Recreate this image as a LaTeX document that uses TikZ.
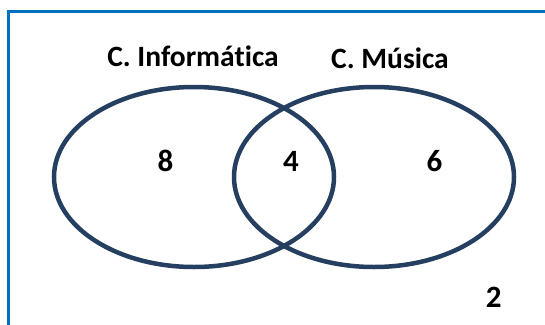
\documentclass[tikz,border=0pt]{standalone}
\usepackage{fontspec}
\setmainfont[Ligatures=NoCommon]{Carlito}
\definecolor{frameblue}{HTML}{0070C0}
\definecolor{setnavy}{HTML}{243F60}
\begin{document}
\begin{tikzpicture}[x=1pt,y=-1pt,
  setring/.style={draw=setnavy,line width=4.5pt},
  setlabel/.style={font=\bfseries\fontsize{29.5}{32}\selectfont,anchor=base,inner sep=0pt},
  countlabel/.style={font=\bfseries\fontsize{31}{34}\selectfont,anchor=center,inner sep=0pt}]
\useasboundingbox (0,0) rectangle (545,324);
\draw[frameblue,line width=3pt] (8.5,11) rectangle (570,350);
\draw[setring] (194,177) ellipse [x radius=140,y radius=90];
\draw[setring] (374,177) ellipse [x radius=140,y radius=90];
\node[setlabel] (inf) at (193,66) {C. Informática};
\node[setlabel] (mus) at (390,68.5) {C. Música};
\node[countlabel] (n8) at (165.5,161) {8};
\node[countlabel] (n4) at (291,161) {4};
\node[countlabel] (n6) at (434.5,161) {6};
\node[countlabel] (n2) at (493.6,297.6) {2};
\end{tikzpicture}
\end{document}
